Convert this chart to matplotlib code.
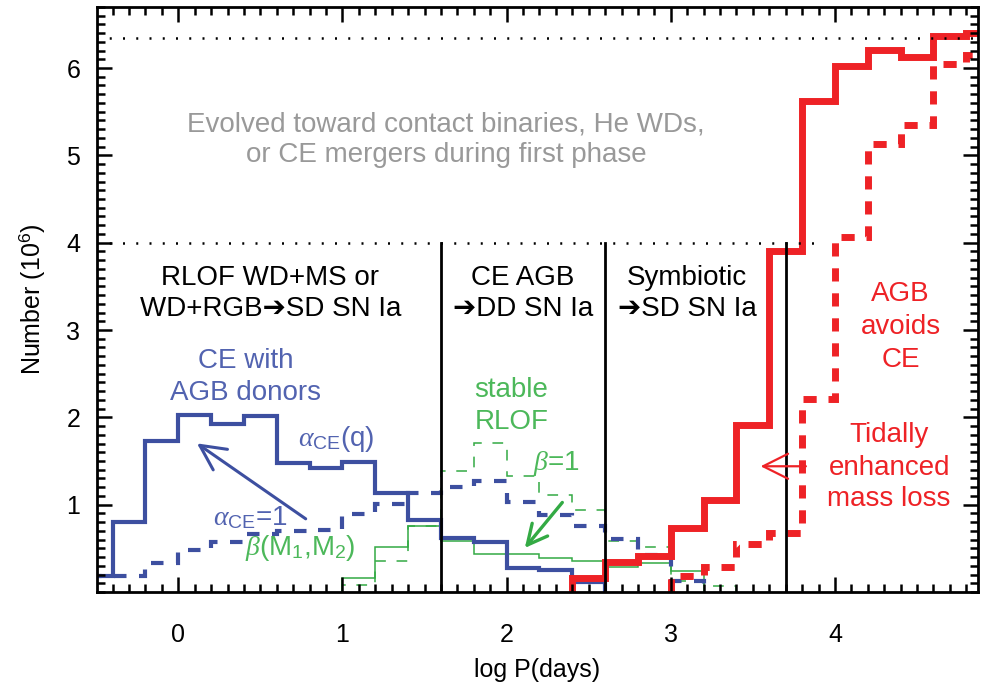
import numpy as np
import matplotlib
matplotlib.use("Agg")
import matplotlib.pyplot as plt
from matplotlib.ticker import MultipleLocator

plt.rcParams['font.family'] = ['Liberation Sans', 'DejaVu Sans']
plt.rcParams['mathtext.fontset'] = 'custom'
plt.rcParams['mathtext.rm'] = 'Liberation Sans'
plt.rcParams['mathtext.it'] = 'Liberation Serif:italic'
plt.rcParams['mathtext.sf'] = 'Liberation Sans'

# ---- data (log P bins of width 0.2) ----
blue_solid_edges = [-0.6, -0.4, -0.2, 0.0, 0.2, 0.4, 0.6, 0.8, 1.0, 1.2, 1.4, 1.6, 1.8, 2.0, 2.2, 2.4, 2.6]
blue_solid = [0.18, 0.80, 1.73, 2.03, 1.92, 2.01, 1.48, 1.42, 1.49, 1.13, 0.83, 0.62, 0.57, 0.27, 0.25, 0.11]

blue_dash_edges = [-0.6, -0.4, -0.2, 0.0, 0.2, 0.4, 0.6, 0.8, 1.0, 1.2, 1.4, 1.6, 1.8, 2.0, 2.2, 2.4, 2.6, 2.8, 3.0, 3.2]
blue_dash = [0.18, 0.18, 0.33, 0.48, 0.57, 0.66, 0.70, 0.71, 0.89, 1.01, 1.13, 1.20, 1.27, 1.03, 0.88, 0.76, 0.61, 0.42, 0.13]

green_solid_edges = [1.0, 1.2, 1.4, 1.6, 1.8, 2.0, 2.2, 2.4, 2.6, 2.8, 3.0, 3.2]
green_solid = [0.155, 0.52, 0.76, 0.58, 0.43, 0.43, 0.39, 0.35, 0.29, 0.33, 0.24]

green_dash_edges = [1.0, 1.2, 1.4, 1.6, 1.8, 2.0, 2.2, 2.4, 2.6, 2.8, 3.0, 3.2, 3.4]
green_dash = [0.08, 0.36, 0.76, 1.39, 1.71, 1.33, 1.11, 0.94, 0.58, 0.52, 0.13, 0.07]

red_solid_edges = [2.4, 2.6, 2.8, 3.0, 3.2, 3.4, 3.6, 3.8, 4.0, 4.2, 4.4, 4.6, 4.8, 5.0]
red_solid = [0.155, 0.34, 0.41, 0.73, 1.05, 1.91, 3.91, 5.62, 6.02, 6.21, 6.13, 6.37, 6.40]

red_dash_edges = [3.0, 3.2, 3.4, 3.6, 3.8, 4.0, 4.2, 4.4, 4.6, 4.8, 5.0]
red_dash = [0.18, 0.29, 0.55, 0.68, 2.21, 4.06, 5.13, 5.35, 6.05, 6.15]

channel_bounds = [1.6, 2.6, 3.7]
total_upper = 6.34
total_lower = 4.0

BLUE = '#3d4fa0'
BLUE_T = '#5263b0'
GREEN = '#33aa44'
GREEN_T = '#4cb85a'
RED = '#ee2226'
GRAY = '#999999'

fig = plt.figure(figsize=(9.83, 6.90), dpi=100)
ax = fig.add_axes([0.0987, 0.142, 0.896, 0.848])
ax.set_xlim(-0.495, 4.87)
ax.set_ylim(0, 6.70)

# dotted reference lines
ax.plot([-0.5, 4.9], [total_upper, total_upper], color='black', lw=1.8, ls=(0, (0.8, 4.5)))
ax.plot([-0.5, 3.9], [total_lower, total_lower], color='black', lw=1.8, ls=(0, (0.8, 4.5)))
for xb in channel_bounds:
    ax.plot([xb, xb], [0, total_lower], color='black', lw=2.0)

# histograms
ax.stairs(green_solid, green_solid_edges, baseline=0, color=GREEN, lw=1.1)
ax.stairs(green_dash, green_dash_edges, baseline=0, color=GREEN, lw=1.1, ls=(0, (7, 7)))
ax.stairs(blue_dash, blue_dash_edges, baseline=0, color=BLUE, lw=3.0, ls=(0, (3, 3)))
ax.stairs(blue_solid, blue_solid_edges, baseline=0, color=BLUE, lw=3.0)
ax.stairs(red_dash, red_dash_edges, baseline=0, color=RED, lw=5.0, ls=(0, (1.9, 1.7)))
ax.stairs(red_solid, red_solid_edges, baseline=0, color=RED, lw=5.0)

# axes styling
for s in ax.spines.values():
    s.set_linewidth(2.0)
ax.xaxis.set_major_locator(MultipleLocator(1))
ax.xaxis.set_minor_locator(MultipleLocator(0.1))
ax.yaxis.set_major_locator(MultipleLocator(1))
ax.yaxis.set_minor_locator(MultipleLocator(0.1))
ax.tick_params(which='both', direction='in', top=True, right=True, width=1.8, colors='black')
ax.tick_params(which='major', length=11)
ax.tick_params(which='minor', length=5.5)
ax.tick_params(axis='x', which='major', pad=22, labelsize=18)
ax.tick_params(axis='y', which='major', pad=12, labelsize=18)
ax.set_yticks([1, 2, 3, 4, 5, 6])
ax.set_yticklabels(['1', '2', '3', '4', '5', '6'])
ax.set_xlabel('log P(days)', fontsize=18, labelpad=8)
ax.set_ylabel('Number (10$^6$)', fontsize=18, labelpad=14)

fs = 20
ARROW = '\u2794'
# gray text
ax.text(1.63, 5.35, 'Evolved toward contact binaries, He WDs,', color=GRAY, fontsize=fs, ha='center', va='center')
ax.text(1.63, 5.0, 'or CE mergers during first phase', color=GRAY, fontsize=fs, ha='center', va='center')

# channel labels
ax.text(0.56, 3.60, 'RLOF WD+MS or', color='black', fontsize=fs, ha='center', va='center')
ax.text(0.56, 3.24, 'WD+RGB' + ARROW + 'SD SN Ia', color='black', fontsize=fs, ha='center', va='center')
ax.text(2.10, 3.60, 'CE AGB', color='black', fontsize=fs, ha='center', va='center')
ax.text(2.10, 3.24, ARROW + 'DD SN Ia', color='black', fontsize=fs, ha='center', va='center')
ax.text(3.10, 3.60, 'Symbiotic', color='black', fontsize=fs, ha='center', va='center')
ax.text(3.10, 3.24, ARROW + 'SD SN Ia', color='black', fontsize=fs, ha='center', va='center')

# blue labels
ax.text(0.41, 2.65, 'CE with', color=BLUE_T, fontsize=fs, ha='center', va='center')
ax.text(0.41, 2.28, 'AGB donors', color=BLUE_T, fontsize=fs, ha='center', va='center')
ax.text(0.96, 1.75, r'$\alpha_{\mathrm{CE}}$(q)', color=BLUE_T, fontsize=fs, ha='center', va='center')
ax.text(0.44, 0.85, r'$\alpha_{\mathrm{CE}}$=1', color=BLUE_T, fontsize=fs, ha='center', va='center')

# green labels
ax.text(0.74, 0.50, r'$\beta$(M$_1$,M$_2$)', color=GREEN_T, fontsize=fs, ha='center', va='center')
ax.text(2.03, 2.31, 'stable', color=GREEN_T, fontsize=fs, ha='center', va='center')
ax.text(2.03, 1.95, 'RLOF', color=GREEN_T, fontsize=fs, ha='center', va='center')
ax.text(2.30, 1.47, r'$\beta$=1', color=GREEN_T, fontsize=fs, ha='center', va='center')

# red labels
ax.text(4.40, 3.41, 'AGB', color=RED, fontsize=fs, ha='center', va='center')
ax.text(4.40, 3.03, 'avoids', color=RED, fontsize=fs, ha='center', va='center')
ax.text(4.40, 2.66, 'CE', color=RED, fontsize=fs, ha='center', va='center')
ax.text(4.33, 1.80, 'Tidally', color=RED, fontsize=fs, ha='center', va='center')
ax.text(4.33, 1.42, 'enhanced', color=RED, fontsize=fs, ha='center', va='center')
ax.text(4.33, 1.07, 'mass loss', color=RED, fontsize=fs, ha='center', va='center')

# arrows
ax.annotate('', xy=(0.10, 1.72), xytext=(0.79, 0.82),
            arrowprops=dict(arrowstyle='->,head_length=0.9,head_width=0.45', color=BLUE, lw=2.2, mutation_scale=20))
ax.annotate('', xy=(2.10, 0.48), xytext=(2.35, 1.05),
            arrowprops=dict(arrowstyle='->,head_length=0.8,head_width=0.4', color=GREEN, lw=2.4, mutation_scale=18))
ax.annotate('', xy=(3.53, 1.44), xytext=(3.84, 1.44),
            arrowprops=dict(arrowstyle='->,head_length=0.9,head_width=0.45', color=RED, lw=1.6, mutation_scale=20))

fig.savefig('out.png', dpi=100)
